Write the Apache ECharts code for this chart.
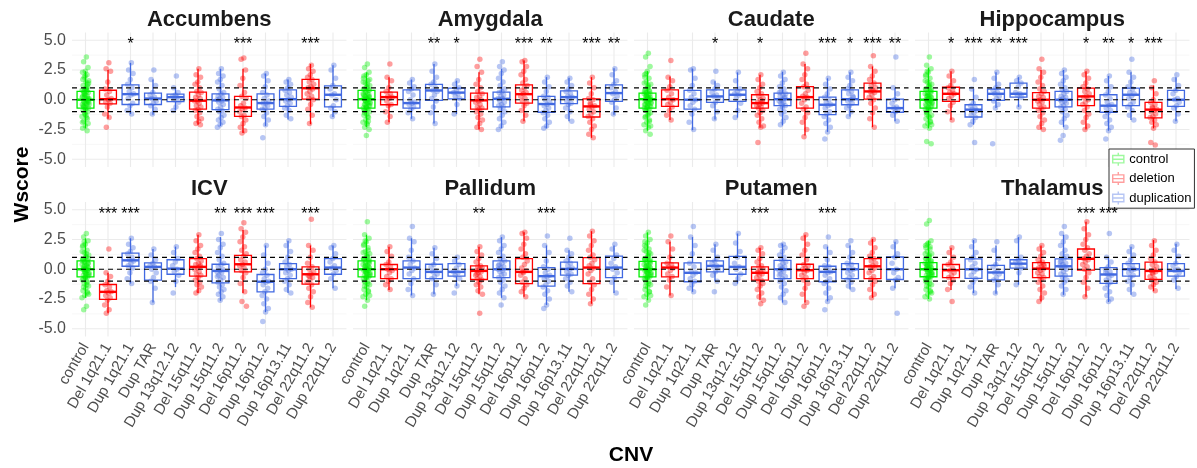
<!DOCTYPE html>
<html>
<head>
<meta charset="utf-8">
<script src="https://cdn.jsdelivr.net/npm/echarts@6/dist/echarts.min.js"></script>
<style>
  html, body { margin: 0; padding: 0; background: #ffffff; }
  #chart { width: 1197px; height: 468px; }
</style>
</head>
<body>
<div id="chart"></div>
<script>
// ---- categories and groups ----
const cnvCategories = ['control', 'Del 1q21.1', 'Dup 1q21.1', 'Dup TAR', 'Dup 13q12.12', 'Del 15q11.2',
  'Dup 15q11.2', 'Del 16p11.2', 'Dup 16p11.2', 'Dup 16p13.11', 'Del 22q11.2', 'Dup 22q11.2'];
const cnvType = ['control', 'deletion', 'duplication', 'duplication', 'duplication', 'deletion',
  'duplication', 'deletion', 'duplication', 'duplication', 'deletion', 'duplication'];
const typeNames = ['control', 'deletion', 'duplication'];
const regionNames = ['Accumbens', 'Amygdala', 'Caudate', 'Hippocampus', 'ICV', 'Pallidum', 'Putamen', 'Thalamus'];
const yTicks = [-5, -2.5, 0, 2.5, 5];
const yMinorTicks = [-3.75, -1.25, 1.25, 3.75];
const refLines = [-1, 0, 1];

// ---- per region: box stats [lower whisker, Q1, median, Q3, upper whisker], W-scores, significance ----
const accumbensBoxes = [[-2.4,-0.7,0,0.7,2.4],[-1.6,-0.35,0.05,0.8,2.5],[-1.2,-0.4,0.47,1.25,3.1],[-1.25,-0.4,0.1,0.55,1.7],
  [-0.9,-0.15,0.22,0.47,1.0],[-2.1,-0.78,-0.08,0.64,2.6],[-2.2,-0.83,-0.05,0.5,2.6],[-2.8,-1.4,-0.65,0.28,2.6],
  [-2.2,-0.78,-0.28,0.5,2.2],[-1.65,-0.56,0.05,0.83,1.7],[-2.05,0.05,0.97,1.72,3.0],[-1.45,-0.6,0.42,1.17,2.9]];
const accumbensPoints = [
  '3.6 3.2 2.7 2.4 2.3 2.1 1.9 1.6 1.5 1.2 1.1 0.9 0.8 0.7 0.6 0.6 0.4 0.3 0.3 0.2 0.1 0.0 -0.1 -0.1 -0.3 -0.4 -0.4 -0.6 -0.7 -0.7 -0.9 -1.0 -1.2 -1.4 -1.5 -1.8 -2.0 -2.2 -2.4 -2.6 ' +
  '0.5 -0.2 0.9 -0.5 1.3 -1.1 0.2 -0.3 0.7 0.0 -0.8 1.7 -1.6 0.4 -0.4 1.0 -0.6 0.1 2.0 -1.9 0.8 -0.2 1.4 -1.3',
  '3.1 2.6 2.4 1.5 0.9 0.7 0.4 0.1 0.0 -0.2 -0.3 -0.6 -1.2 -1.5 -2.3',
  '3.1 2.5 2.2 1.7 1.3 1.0 0.7 0.5 0.4 0.1 -0.3 -0.5 -0.9 -1.2',
  '2.5 1.7 1.2 0.6 0.4 0.2 0.1 -0.1 -0.3 -0.5 -0.8 -1.2',
  '2.0 1.0 0.6 0.4 0.3 0.2 0.0 -0.2 -0.6 -0.9',
  '2.6 2.1 1.9 1.5 1.3 1.0 0.7 0.6 0.4 0.2 0.1 -0.1 -0.1 -0.3 -0.5 -0.6 -0.8 -0.9 -1.1 -1.4 -1.6 -1.8 -2.0 -2.1',
  '2.6 2.2 2.0 1.7 1.5 1.2 0.9 0.6 0.5 0.3 0.2 0.1 0.0 -0.1 -0.2 -0.4 -0.6 -0.8 -0.9 -1.0 -1.3 -1.5 -1.7 -1.9 -2.1 -2.3',
  '3.5 3.4 2.5 1.8 1.2 0.6 0.3 0.1 -0.3 -0.5 -0.7 -0.8 -1.0 -1.3 -1.4 -1.7 -2.0 -2.3 -2.6 -2.8',
  '2.2 2.0 1.6 1.1 0.6 0.4 0.1 -0.1 -0.3 -0.3 -0.5 -0.7 -0.8 -1.1 -1.4 -1.7 -2.1 -3.2',
  '1.7 1.5 1.3 1.0 0.8 0.6 0.4 0.2 0.0 -0.1 -0.3 -0.5 -0.7 -0.9 -1.3 -1.6',
  '2.9 2.6 2.4 2.1 1.9 1.7 1.5 1.3 1.1 1.0 0.9 0.7 0.5 0.3 0.1 0.0 -0.4 -0.8 -1.3 -2.0',
  '2.9 2.5 1.8 1.2 0.9 0.5 0.4 0.0 -0.5 -0.7 -1.0 -1.4'];
const accumbensStars = ['', '', '*', '', '', '', '', '***', '', '', '***', ''];

const amygdalaBoxes = [[-2.3,-0.7,0.05,0.78,2.3],[-1.9,-0.42,0.22,0.64,1.9],[-1.6,-0.7,-0.28,0.83,1.7],[-2.0,-0.05,0.78,1.3,3.0],
  [-1.2,0.08,0.6,0.97,1.6],[-2.5,-0.78,-0.05,0.55,2.3],[-2.4,-0.6,0.08,0.64,2.6],[-1.8,-0.28,0.47,1.25,3.3],
  [-2.4,-1.05,-0.36,0.28,1.9],[-1.8,-0.33,0.22,0.75,1.85],[-3.2,-1.45,-0.56,0.08,1.9],[-1.25,-0.14,0.56,1.25,2.65]];
const amygdalaPoints = [
  '3.0 2.7 2.3 2.1 1.8 1.6 1.4 1.2 1.0 0.9 0.8 0.7 0.5 0.5 0.3 0.2 0.1 0.1 0.0 -0.1 -0.2 -0.3 -0.4 -0.5 -0.6 -0.7 -0.8 -0.9 -1.0 -1.2 -1.3 -1.5 -1.7 -1.9 -2.1 -2.3 -2.5 -3.0 0.4 -0.2 ' +
  '0.6 -0.5 1.1 -0.9 0.3 -0.1 1.5 -1.4 0.0 0.8 -0.7 2.0 -1.8 0.2 -0.3 1.3 -1.1 0.4 -0.6 0.9 0.1 -0.4 1.7 -2.0',
  '3.0 1.9 1.6 1.0 0.7 0.5 0.3 0.2 0.1 -0.1 -0.4 -0.5 -1.0 -1.4 -1.9',
  '1.7 1.4 1.1 0.9 0.7 0.4 0.0 -0.2 -0.3 -0.4 -0.6 -0.8 -1.1 -1.6',
  '3.0 2.4 1.9 1.5 1.3 1.0 0.8 0.7 0.4 0.1 -0.1 -0.6 -1.1 -2.0',
  '1.6 1.3 1.0 0.8 0.6 0.5 0.3 0.1 -0.4 -1.2',
  '3.4 2.8 2.3 1.7 1.3 1.0 0.7 0.5 0.3 0.2 0.0 -0.1 -0.2 -0.4 -0.6 -0.7 -0.8 -1.0 -1.2 -1.5 -1.7 -2.0 -2.3 -2.5',
  '3.2 2.8 2.5 2.2 1.8 1.5 1.2 0.9 0.7 0.6 0.4 0.3 0.1 0.1 -0.1 -0.2 -0.4 -0.5 -0.6 -0.8 -1.0 -1.3 -1.6 -1.9 -2.2 -2.5',
  '3.3 3.2 2.8 2.4 2.1 1.7 1.4 1.2 1.0 0.8 0.6 0.5 0.3 0.1 -0.1 -0.3 -0.5 -0.9 -1.3 -1.8',
  '1.9 1.5 1.1 0.7 0.3 0.2 0.0 -0.2 -0.4 -0.5 -0.7 -0.9 -1.1 -1.3 -1.6 -1.9 -2.2 -2.4',
  '1.8 1.5 1.2 0.9 0.7 0.5 0.3 0.2 0.1 -0.1 -0.3 -0.4 -0.7 -1.0 -1.4 -1.8',
  '1.9 1.4 1.0 0.5 0.1 0.0 -0.3 -0.5 -0.6 -0.8 -1.0 -1.2 -1.4 -1.6 -1.9 -2.2 -2.5 -2.9 -3.2 -0.4',
  '2.6 2.1 1.6 1.3 1.0 0.7 0.5 0.3 0.0 -0.2 -0.7 -1.2'];
const amygdalaStars = ['', '', '', '**', '*', '', '', '***', '**', '', '***', '**'];

const caudateBoxes = [[-2.6,-0.7,0.05,0.55,2.4],[-1.7,-0.56,0.05,0.83,1.95],[-2.55,-0.78,0,0.78,2.6],[-1.65,-0.22,0.28,0.83,1.55],
  [-1.5,-0.14,0.42,0.83,2.3],[-2.35,-0.7,-0.28,0.42,2.1],[-2.15,-0.5,0.05,0.55,2.35],[-3.0,-0.7,0.22,1.1,3.0],
  [-2.7,-1.25,-0.42,0.22,1.8],[-1.4,-0.42,0.05,0.83,2.3],[-2.3,0.05,0.7,1.4,2.8],[-1.8,-1.05,-0.7,0.05,1.0]];
const caudatePoints = [
  '3.9 3.6 2.8 2.4 2.1 1.8 1.5 1.3 1.1 0.9 0.7 0.6 0.5 0.4 0.3 0.2 0.1 0.0 0.0 -0.1 -0.2 -0.3 -0.4 -0.5 -0.6 -0.7 -0.8 -0.9 -1.1 -1.3 -1.5 -1.7 -1.9 -2.1 -2.3 -2.6 -2.9 0.2 -0.4 0.8 ' +
  '0.4 -0.6 1.0 -0.9 0.1 -0.2 1.4 -1.2 0.6 0.0 -0.5 1.9 -1.8 0.3 -0.3 1.2 -1.4 0.5 -0.7 0.7 -0.1 2.2 -2.2 0.2',
  '3.3 1.9 1.6 1.1 0.8 0.5 0.2 0.0 -0.2 -0.4 -0.6 -0.9 -1.3 -1.7',
  '2.6 2.5 1.8 1.2 0.8 0.5 0.2 0.0 -0.2 -0.5 -0.8 -1.2 -1.9 -2.5',
  '2.4 1.5 1.2 0.9 0.6 0.4 0.3 0.1 -0.2 -0.5 -1.0 -1.6',
  '2.3 1.6 0.9 0.7 0.5 0.4 0.1 -0.3 -0.9 -1.5',
  '2.1 1.7 1.3 1.0 0.7 0.5 0.3 0.1 0.0 -0.2 -0.3 -0.4 -0.5 -0.6 -0.7 -0.9 -1.1 -1.3 -1.6 -1.9 -2.2 -2.3 -3.6 -0.1',
  '2.3 2.0 1.7 1.4 1.1 0.9 0.7 0.5 0.4 0.3 0.1 0.0 -0.1 -0.2 -0.3 -0.5 -0.6 -0.8 -1.0 -1.2 -1.5 -1.8 -2.1 0.2 -0.4 0.6',
  '3.9 3.0 2.6 2.1 1.7 1.3 1.1 0.8 0.5 0.3 0.2 0.0 -0.3 -0.6 -0.8 -1.1 -1.5 -1.9 -2.5 -3.1',
  '1.8 1.3 0.9 0.5 0.2 0.0 -0.2 -0.4 -0.5 -0.7 -1.0 -1.2 -1.4 -1.7 -2.0 -2.3 -2.7 -3.3',
  '2.3 1.9 1.6 1.2 0.9 0.7 0.5 0.2 0.0 -0.1 -0.3 -0.5 -0.7 -1.0 -1.4 0.3',
  '3.7 2.8 2.4 2.0 1.7 1.4 1.2 1.0 0.8 0.7 0.6 0.4 0.2 0.0 -0.3 -0.7 -1.1 -1.6 -2.3 0.9',
  '3.6 1.0 0.5 0.0 -0.3 -0.6 -0.7 -0.8 -1.0 -1.3 -1.8'];
const caudateStars = ['', '', '', '*', '', '*', '', '', '***', '*', '***', '**'];

const hippocampusBoxes = [[-2.4,-0.7,0,0.7,2.7],[-1.7,-0.14,0.5,1.05,2.4],[-2.1,-1.45,-0.83,-0.42,0.9],[-0.7,-0.05,0.5,0.9,2.3],
  [-0.6,0.22,0.5,1.4,1.9],[-2.5,-0.7,0,0.6,2.5],[-2.3,-0.6,0,0.7,2.5],[-2.5,-0.5,0.28,0.97,2.4],
  [-2.6,-1.05,-0.5,0.42,2.0],[-1.7,-0.5,0.42,0.97,2.3],[-2.4,-1.52,-0.83,-0.22,1.2],[-1.8,-0.56,0,0.78,1.9]];
const hippocampusPoints = [
  '3.6 2.9 2.6 2.3 2.0 1.8 1.5 1.3 1.1 0.9 0.7 0.6 0.5 0.3 0.3 0.2 0.1 0.0 -0.1 -0.1 -0.2 -0.3 -0.5 -0.6 -0.7 -0.8 -0.9 -1.1 -1.3 -1.4 -1.6 -1.8 -2.0 -2.2 -2.4 -3.5 -3.7 0.4 -0.4 1.0 ' +
  '0.5 -0.5 1.2 -1.0 0.2 -0.2 1.6 -1.5 0.0 0.8 -0.8 2.1 -1.9 0.3 -0.3 1.4 -1.2 0.6 -0.6 0.9 -0.1 2.4 -2.1 0.1',
  '2.4 2.0 1.6 1.2 1.0 0.8 0.6 0.5 0.3 0.1 -0.2 -0.5 -1.0 -1.7',
  '1.7 0.9 0.2 -0.3 -0.5 -0.7 -0.8 -0.9 -1.1 -1.3 -1.5 -1.8 -2.1 -3.6',
  '2.3 1.8 1.3 1.0 0.8 0.6 0.5 0.3 0.1 -0.1 -0.4 -0.7 -3.7',
  '1.9 1.6 1.4 1.1 0.6 0.5 0.4 0.2 -0.6',
  '3.4 2.6 2.3 1.9 1.5 1.2 0.9 0.7 0.5 0.3 0.2 0.0 -0.1 -0.2 -0.4 -0.6 -0.7 -0.9 -1.1 -1.4 -1.7 -2.0 -2.3 -2.5',
  '2.5 2.2 1.9 1.6 1.3 1.0 0.8 0.7 0.5 0.3 0.2 0.1 0.0 -0.1 -0.2 -0.3 -0.5 -0.6 -0.8 -1.0 -1.3 -1.6 -1.9 -2.3 -3.0 -3.4',
  '2.4 2.1 1.8 1.4 1.1 0.9 0.7 0.5 0.3 0.2 0.0 -0.2 -0.4 -0.6 -0.9 -1.2 -1.5 -1.9 -2.2 -2.5',
  '2.0 1.6 1.1 0.7 0.4 0.1 -0.2 -0.4 -0.5 -0.7 -0.9 -1.1 -1.4 -1.7 -2.0 -2.3 -2.6 -3.3',
  '3.4 2.3 1.9 1.5 1.1 0.9 0.6 0.5 0.3 0.1 -0.2 -0.4 -0.6 -0.9 -1.3 -1.7',
  '1.6 1.0 0.5 0.0 -0.2 -0.4 -0.6 -0.8 -0.9 -1.0 -1.2 -1.4 -1.5 -1.7 -1.9 -2.1 -2.4 -3.6 -3.8 -0.7',
  '2.1 1.7 1.2 0.8 0.5 0.1 0.0 -0.2 -0.5 -0.7 -1.2 -1.8'];
const hippocampusStars = ['', '*', '***', '**', '***', '', '', '*', '**', '*', '***', ''];

const icvBoxes = [[-2.4,-0.64,0,0.7,2.6],[-3.7,-2.53,-1.9,-1.28,-0.3],[-1.2,0.25,0.75,1.36,2.6],[-2.8,-0.92,0.2,0.53,1.7],
  [-1.5,-0.42,0.05,0.8,1.9],[-2.0,-0.58,0.2,0.9,2.9],[-2.65,-1.14,-0.14,0.42,2.7],[-2.0,-0.22,0.42,1.17,3.3],
  [-3.6,-1.9,-1.05,-0.44,2.0],[-2.0,-0.78,0,0.47,2.4],[-3.2,-1.25,-0.42,0.2,2.0],[-1.6,-0.42,0.14,0.9,2.0]];
const icvPoints = [
  '3.0 2.7 2.4 2.1 1.9 1.6 1.4 1.2 1.0 0.8 0.7 0.6 0.4 0.3 0.2 0.1 0.0 0.0 -0.1 -0.2 -0.3 -0.4 -0.5 -0.6 -0.7 -0.9 -1.0 -1.2 -1.4 -1.6 -1.8 -2.0 -2.2 -2.4 -3.1 -3.4 0.5 -0.3 0.9 -1.1 ' +
  '0.6 -0.5 1.1 -0.8 0.2 -0.2 1.5 -1.3 0.0 0.9 -0.7 2.0 -1.9 0.3 -0.4 1.3 -1.5 0.5 -0.6 0.7 -0.1 2.3 -2.1 0.1',
  '1.7 -0.3 -0.6 -1.0 -1.3 -1.5 -1.8 -1.9 -2.0 -2.2 -2.4 -2.6 -3.0 -3.4 -3.7',
  '2.6 2.1 1.8 1.5 1.3 1.0 0.8 0.7 0.5 0.3 0.1 -0.3 -0.8 -1.2',
  '1.7 1.2 0.8 0.5 0.3 0.2 0.0 -0.3 -0.7 -1.0 -1.6 -2.8',
  '1.9 1.4 0.9 0.6 0.3 0.0 -0.2 -0.5 -1.0 -2.0',
  '2.9 2.4 2.0 1.7 1.4 1.1 0.9 0.7 0.5 0.4 0.2 0.1 0.0 -0.2 -0.4 -0.5 -0.7 -0.9 -1.1 -1.3 -1.5 -1.8 -2.0 0.3',
  '3.0 2.5 2.1 1.8 1.4 1.1 0.8 0.5 0.4 0.2 0.0 -0.1 -0.2 -0.3 -0.5 -0.7 -0.9 -1.1 -1.3 -1.5 -1.7 -1.9 -2.1 -2.3 -2.6 -0.6',
  '3.9 3.4 3.1 2.7 2.3 1.9 1.6 1.3 1.1 0.8 0.6 0.4 0.3 0.1 -0.1 -0.3 -0.7 -1.2 -1.9 -2.7 -3.1',
  '2.0 1.2 0.5 0.0 -0.3 -0.5 -0.8 -1.0 -1.1 -1.3 -1.6 -1.9 -2.2 -2.5 -2.9 -3.3 -3.6 -4.4',
  '2.4 2.0 1.5 1.0 0.6 0.4 0.2 0.0 -0.1 -0.3 -0.5 -0.8 -1.0 -1.3 -1.7 -2.0',
  '4.2 2.0 1.6 1.0 0.5 0.2 0.0 -0.2 -0.4 -0.5 -0.7 -0.9 -1.1 -1.3 -1.6 -1.9 -2.3 -2.8 -3.2 -0.6',
  '2.0 1.8 1.3 0.9 0.6 0.3 0.1 -0.1 -0.4 -0.8 -1.6'];
const icvStars = ['', '***', '***', '', '', '', '**', '***', '***', '', '***', ''];

const pallidumBoxes = [[-2.6,-0.64,0,0.7,2.9],[-1.75,-0.78,0,0.4,1.9],[-2.2,-0.78,0.14,0.7,2.6],[-2.1,-0.78,-0.22,0.42,1.8],
  [-1.4,-0.58,-0.22,0.47,0.97],[-2.1,-0.86,-0.14,0.28,1.9],[-2.4,-0.7,0,0.7,2.7],[-2.3,-1.2,-0.22,0.9,3.1],
  [-3.0,-1.42,-0.58,0.14,2.0],[-1.9,-0.5,0.03,0.6,1.6],[-2.9,-1.2,0.14,0.97,3.2],[-2.0,-0.7,0.14,1.1,2.0]];
const pallidumPoints = [
  '4.0 2.9 2.6 2.3 2.0 1.8 1.5 1.3 1.1 0.9 0.7 0.6 0.4 0.3 0.2 0.1 0.0 -0.1 -0.1 -0.2 -0.3 -0.4 -0.5 -0.6 -0.7 -0.8 -1.0 -1.1 -1.3 -1.5 -1.7 -1.9 -2.1 -2.3 -2.6 -3.1 0.5 -0.3 0.8 1.6 ' +
  '0.5 -0.4 1.2 -1.0 0.2 -0.2 1.4 -1.2 0.0 0.8 -0.7 2.1 -1.8 0.3 -0.5 1.0 -1.4 0.6 -0.6 0.9 -0.1 2.4 -2.2 0.1',
  '1.9 1.5 1.1 0.6 0.4 0.2 0.0 -0.1 -0.3 -0.6 -0.8 -1.0 -1.3 -1.7',
  '3.6 2.6 2.3 1.6 1.0 0.7 0.4 0.1 -0.1 -0.4 -0.8 -1.2 -1.7 -2.2',
  '1.8 1.3 0.9 0.4 0.2 -0.1 -0.2 -0.4 -0.6 -0.8 -1.3 -2.1',
  '1.0 0.7 0.4 0.1 -0.2 -0.3 -0.5 -0.8 -1.4 -2.0',
  '1.9 1.5 1.2 0.9 0.6 0.3 0.2 0.1 0.0 -0.1 -0.2 -0.3 -0.5 -0.6 -0.8 -0.9 -1.1 -1.3 -1.5 -1.8 -2.1 -3.7 -0.4',
  '2.7 2.4 2.0 1.7 1.4 1.1 0.9 0.7 0.5 0.4 0.2 0.1 0.0 -0.1 -0.2 -0.4 -0.5 -0.7 -0.9 -1.1 -1.4 -1.7 -2.0 -2.4 -3.0 0.3',
  '3.1 3.0 2.6 2.1 1.7 1.3 1.0 0.7 0.4 0.1 -0.1 -0.3 -0.5 -0.8 -1.1 -1.3 -1.6 -1.9 -2.3 -0.2',
  '2.8 2.0 1.4 0.7 0.2 0.0 -0.3 -0.5 -0.6 -0.8 -1.0 -1.3 -1.5 -1.8 -2.1 -2.5 -3.0 -3.3',
  '2.6 1.6 1.3 1.0 0.7 0.5 0.3 0.1 0.0 -0.2 -0.4 -0.5 -0.8 -1.1 -1.4 -1.9',
  '3.2 2.8 2.4 2.0 1.6 1.2 1.0 0.8 0.5 0.3 0.1 -0.1 -0.4 -0.8 -1.1 -1.3 -1.7 -2.1 -2.5 -2.9',
  '2.1 1.7 1.2 0.9 0.5 0.2 0.0 -0.3 -0.7 -1.1 -2.0'];
const pallidumStars = ['', '', '', '', '', '**', '', '', '***', '', '', ''];

const putamenBoxes = [[-2.6,-0.64,0,0.67,3.1],[-2.2,-0.64,0.14,0.53,2.3],[-1.9,-1.05,-0.3,0.53,2.7],[-1.0,-0.22,0.28,0.7,2.1],
  [-1.2,-0.42,0.2,1.08,3.0],[-2.6,-0.92,-0.3,0.2,1.8],[-2.8,-0.78,0,0.75,2.15],[-2.8,-0.78,-0.08,0.42,2.9],
  [-2.7,-1.05,-0.22,0.25,1.9],[-1.7,-0.78,0,0.47,2.0],[-2.4,-0.78,0.25,0.9,2.55],[-1.6,-0.86,0,1.03,2.3]];
const putamenPoints = [
  '3.1 2.8 2.5 2.2 2.0 1.7 1.5 1.3 1.1 0.9 0.7 0.6 0.4 0.3 0.2 0.1 0.0 -0.1 -0.1 -0.2 -0.3 -0.4 -0.5 -0.6 -0.7 -0.8 -1.0 -1.1 -1.3 -1.5 -1.7 -1.9 -2.1 -2.3 -2.6 -3.0 0.5 -0.3 0.8 1.4 ' +
  '0.5 -0.5 1.0 -0.9 0.2 -0.2 1.6 -1.2 0.0 0.8 -0.7 2.3 -1.9 0.3 -0.4 1.2 -1.4 0.6 -0.6 0.9 -0.1 1.9 -2.2 0.1',
  '2.8 2.3 1.7 1.0 0.5 0.4 0.2 0.1 -0.1 -0.4 -0.6 -0.9 -1.5 -2.2',
  '3.6 2.7 2.0 1.3 0.5 0.2 -0.2 -0.3 -0.5 -0.8 -1.0 -1.3 -1.6 -1.9',
  '2.1 1.6 1.0 0.7 0.5 0.3 0.2 0.0 -0.2 -0.5 -1.0 -1.9',
  '3.0 2.2 1.5 1.0 0.5 0.2 0.0 -0.4 -0.8 -1.2',
  '1.8 1.6 1.3 0.9 0.6 0.3 0.2 0.0 -0.1 -0.3 -0.4 -0.5 -0.7 -0.9 -1.0 -1.2 -1.4 -1.7 -2.0 -2.3 -2.6 -2.9 -0.2',
  '2.1 2.0 1.8 1.5 1.2 1.0 0.8 0.6 0.5 0.3 0.2 0.0 -0.1 -0.2 -0.4 -0.6 -0.8 -1.0 -1.2 -1.5 -1.8 -2.1 -2.4 -2.8 0.1 -0.5',
  '2.9 2.6 2.1 1.6 1.2 0.8 0.4 0.3 0.1 0.0 -0.1 -0.3 -0.5 -0.7 -0.9 -1.2 -1.6 -2.1 -2.8 -3.1',
  '2.7 1.9 1.4 0.8 0.3 0.2 0.0 -0.2 -0.3 -0.5 -0.8 -1.0 -1.2 -1.6 -2.0 -2.4 -2.7 -3.4',
  '2.4 2.0 1.4 1.0 0.5 0.4 0.2 0.0 -0.1 -0.3 -0.5 -0.7 -0.9 -1.1 -1.4 -1.7',
  '2.5 2.2 1.8 1.4 1.1 0.9 0.7 0.5 0.3 0.2 0.1 -0.1 -0.3 -0.6 -0.8 -1.0 -1.3 -1.7 -2.1 -2.4',
  '2.3 1.9 1.3 1.0 0.5 0.0 -0.3 -0.7 -0.9 -1.6 -3.7'];
const putamenStars = ['', '', '', '', '', '***', '', '', '***', '', '', ''];

const thalamusBoxes = [[-2.5,-0.63,0,0.55,2.4],[-1.75,-0.7,-0.08,0.4,1.8],[-2.0,-0.77,0,0.88,2.45],[-2.05,-0.9,-0.27,0.33,2.0],
  [-1.3,0.1,0.47,0.8,2.7],[-2.7,-0.7,0.05,0.55,2.0],[-2.15,-0.58,0.25,0.88,2.9],[-2.3,-0.08,0.88,1.7,4.0],
  [-2.75,-1.18,-0.44,0.14,1.0],[-2.15,-0.58,0,0.47,1.9],[-1.85,-0.85,-0.14,0.6,2.45],[-1.65,-0.58,-0.14,0.47,2.15]];
const thalamusPoints = [
  '4.1 3.8 2.4 2.2 2.0 1.7 1.5 1.3 1.1 0.9 0.7 0.6 0.5 0.3 0.2 0.1 0.0 0.0 -0.1 -0.2 -0.3 -0.4 -0.5 -0.6 -0.7 -0.8 -0.9 -1.1 -1.3 -1.5 -1.7 -1.9 -2.1 -2.3 -2.5 0.4 -0.3 0.8 -1.0 1.9 ' +
  '0.4 -0.5 1.0 -0.9 0.2 -0.2 1.3 -1.2 0.0 0.7 -0.7 1.8 -1.8 0.3 -0.4 1.2 -1.4 0.5 -0.6 0.9 -0.1 2.1 -2.0 0.1',
  '1.8 1.4 1.0 0.6 0.4 0.1 -0.1 -0.3 -0.5 -0.7 -0.9 -1.2 -1.7 -2.7',
  '2.4 1.9 1.4 1.0 0.8 0.5 0.2 0.0 -0.2 -0.5 -0.8 -1.1 -1.5 -2.0',
  '2.3 1.6 0.9 0.4 0.2 -0.1 -0.3 -0.4 -0.7 -0.9 -1.3 -2.0',
  '2.7 2.4 1.0 0.8 0.6 0.5 0.3 0.1 -0.3 -1.3',
  '2.0 1.7 1.4 1.1 0.8 0.6 0.5 0.3 0.2 0.1 0.0 -0.1 -0.3 -0.4 -0.6 -0.7 -0.9 -1.1 -1.4 -1.7 -2.0 -2.4 -2.7 0.4',
  '3.6 3.0 2.7 2.3 2.0 1.6 1.3 1.1 0.9 0.7 0.5 0.4 0.3 0.2 0.1 0.0 -0.2 -0.4 -0.5 -0.7 -0.9 -1.1 -1.4 -1.7 -2.1 0.6',
  '4.0 3.4 2.9 2.5 2.1 1.8 1.6 1.3 1.1 0.9 0.8 0.6 0.4 0.2 0.0 -0.3 -0.7 -1.1 -1.6 -2.3',
  '3.0 1.0 0.6 0.2 0.0 -0.2 -0.4 -0.5 -0.7 -0.9 -1.1 -1.3 -1.6 -1.9 -2.2 -2.5 -2.7 -0.3',
  '1.9 1.5 1.2 0.8 0.5 0.3 0.1 0.0 -0.1 -0.3 -0.5 -0.7 -1.0 -1.3 -1.7 -2.1',
  '2.4 2.0 1.6 1.2 0.9 0.6 0.4 0.2 0.0 -0.1 -0.2 -0.4 -0.6 -0.8 -0.9 -1.1 -1.3 -1.5 -1.8 -0.3',
  '2.1 1.6 1.1 0.5 0.3 0.0 -0.1 -0.3 -0.6 -0.9 -1.6'];
const thalamusStars = ['', '', '', '', '', '', '', '***', '***', '', '', ''];

const regionBoxes = [accumbensBoxes, amygdalaBoxes, caudateBoxes, hippocampusBoxes, icvBoxes, pallidumBoxes, putamenBoxes, thalamusBoxes];
const regionPoints = [accumbensPoints, amygdalaPoints, caudatePoints, hippocampusPoints, icvPoints, pallidumPoints, putamenPoints, thalamusPoints];
const regionStars = [accumbensStars, amygdalaStars, caudateStars, hippocampusStars, icvStars, pallidumStars, putamenStars, thalamusStars];

// ---- look ----
const FONT = '"Liberation Sans", Arial, Helvetica, sans-serif';
const typeColors = { control: '#00EE00', deletion: '#FF0000', duplication: '#4169E1' };
const PANEL_LEFT = [72, 353, 634, 915];
const PANEL_W = 274.5;
const ROW_TOP = [32.5, 202];
const PANEL_H = 134.5;
const X_MIN = -0.6, X_MAX = 11.6;
const Y_MIN = -5.65, Y_MAX = 5.65;
const BOX_WIDTH = 0.75;
const JITTER = 0.16;
const STAR_Y = 4.6;

// sideways spread of the points: a fixed golden-ratio sequence, so the layout is repeatable
const jitter = j => ((((j + 1) * 0.6180339887) % 1) - 0.5) * 2 * JITTER;

const chart = echarts.init(document.getElementById('chart'), null, { renderer: 'canvas' });

const grids = [], xAxes = [], yAxes = [], titles = [], series = [];

const renderGrid = (params, api) => {
  const kind = api.value(2);
  if (kind === 3) {
    const a = api.coord([api.value(0), Y_MIN]), b = api.coord([api.value(0), Y_MAX]);
    return { type: 'line', shape: { x1: a[0], y1: a[1], x2: b[0], y2: b[1] }, style: { stroke: '#EBEBEB', lineWidth: 1.1 } };
  }
  const a = api.coord([X_MIN, api.value(1)]), b = api.coord([X_MAX, api.value(1)]);
  return { type: 'line', shape: { x1: a[0], y1: a[1], x2: b[0], y2: b[1] },
    style: { stroke: kind === 1 ? '#EBEBEB' : '#F2F2F2', lineWidth: kind === 1 ? 1.1 : 0.6 } };
};

const renderRef = (params, api) => {
  const a = api.coord([X_MIN, api.value(1)]), b = api.coord([X_MAX, api.value(1)]);
  return { type: 'line', shape: { x1: a[0], y1: a[1], x2: b[0], y2: b[1] },
    style: { stroke: '#000', lineWidth: 1.2, lineDash: [5, 4] } };
};

const makeBoxRenderer = color => (params, api) => {
  const x = api.value(0);
  const lo = api.coord([x, api.value(1)]);
  const q1 = api.coord([x, api.value(2)]);
  const med = api.coord([x, api.value(3)]);
  const q3 = api.coord([x, api.value(4)]);
  const hi = api.coord([x, api.value(5)]);
  const half = api.size([BOX_WIDTH, 0])[0] / 2;
  const thin = { stroke: color, lineWidth: 1.3, fill: null };
  return { type: 'group', children: [
    { type: 'line', shape: { x1: lo[0], y1: lo[1], x2: q1[0], y2: q1[1] }, style: thin },
    { type: 'line', shape: { x1: q3[0], y1: q3[1], x2: hi[0], y2: hi[1] }, style: thin },
    { type: 'rect', shape: { x: q3[0] - half, y: q3[1], width: half * 2, height: q1[1] - q3[1] },
      style: { stroke: color, lineWidth: 1.3, fill: 'rgba(0,0,0,0)' } },
    { type: 'line', shape: { x1: med[0] - half, y1: med[1], x2: med[0] + half, y2: med[1] },
      style: { stroke: color, lineWidth: 2.4 } }
  ] };
};

regionNames.forEach((name, k) => {
  const row = Math.floor(k / 4), col = k % 4;
  const left = PANEL_LEFT[col], top = ROW_TOP[row];
  grids.push({ left, top, width: PANEL_W, height: PANEL_H });

  xAxes.push({
    gridIndex: k, type: 'value', min: X_MIN, max: X_MAX,
    axisLine: { show: false }, axisTick: { show: false }, splitLine: { show: false },
    axisLabel: row === 1 ? {
      show: true, customValues: cnvCategories.map((c, i) => i),
      formatter: v => cnvCategories[Math.round(v)] || '',
      rotate: 60, margin: 8, fontSize: 15, color: '#4D4D4D', fontFamily: FONT
    } : { show: false }
  });
  yAxes.push({
    gridIndex: k, type: 'value', min: Y_MIN, max: Y_MAX,
    axisLine: { show: false }, axisTick: { show: false }, splitLine: { show: false },
    axisLabel: col === 0 ? {
      show: true, customValues: yTicks, formatter: v => v.toFixed(1),
      margin: 6, fontSize: 16, color: '#4D4D4D', fontFamily: FONT
    } : { show: false }
  });

  titles.push({
    text: name, left: left + PANEL_W / 2, top: top - 24, textAlign: 'center', padding: 0,
    textStyle: { fontSize: 22, fontWeight: 'bold', color: '#1A1A1A', fontFamily: FONT }
  });

  // background grid
  const gridData = [
    ...yTicks.map(v => [0, v, 1]),
    ...yMinorTicks.map(v => [0, v, 2]),
    ...cnvCategories.map((c, i) => [i, 0, 3])
  ];
  series.push({ type: 'custom', xAxisIndex: k, yAxisIndex: k, z: 1, silent: true,
    renderItem: renderGrid, data: gridData, encode: { x: 0, y: 1 } });

  // jittered subjects and box plots, one series per CNV type
  typeNames.forEach(type => {
    const pts = [];
    const boxes = [];
    cnvCategories.forEach((cat, i) => {
      if (cnvType[i] !== type) return;
      regionPoints[k][i].trim().split(/\s+/).map(Number).forEach((v, j) => pts.push([i + jitter(j), v]));
      boxes.push([i, ...regionBoxes[k][i]]);
    });
    series.push({
      type: 'scatter', name: type, xAxisIndex: k, yAxisIndex: k, z: 2,
      symbolSize: 5.5, itemStyle: { color: typeColors[type], opacity: 0.38 },
      data: pts, emphasis: { disabled: true }
    });
    series.push({
      type: 'custom', name: type, xAxisIndex: k, yAxisIndex: k, z: 3,
      itemStyle: { color: typeColors[type] },
      renderItem: makeBoxRenderer(typeColors[type]), data: boxes, encode: { x: 0, y: [1, 2, 3, 4, 5] }
    });
  });

  // reference lines at -1, 0, 1
  series.push({ type: 'custom', xAxisIndex: k, yAxisIndex: k, z: 4, silent: true,
    renderItem: renderRef, data: refLines.map(v => [0, v]), encode: { x: 0, y: 1 } });

  // significance marks
  const starData = regionStars[k].map((s, i) => [i, STAR_Y]).filter((d, i) => regionStars[k][i]);
  series.push({ type: 'custom', xAxisIndex: k, yAxisIndex: k, z: 5, silent: true,
    renderItem: (params, api) => {
      const p = api.coord([api.value(0), api.value(1)]);
      return { type: 'text', x: p[0], y: p[1],
        style: { text: regionStars[k][api.value(0)], fontSize: 16, fontFamily: FONT, fill: '#000',
          align: 'center', verticalAlign: 'middle' } };
    },
    data: starData, encode: { x: 0, y: 1 } });
});

const BOX_ICON = 'path://M3,3 H15 V11 H3 Z M3,7 H15 M9,0 V3 M9,11 V14';

chart.setOption({
  animation: false,
  backgroundColor: '#ffffff',
  title: titles,
  grid: grids,
  xAxis: xAxes,
  yAxis: yAxes,
  legend: {
    orient: 'vertical', left: 1109, top: 149,
    backgroundColor: '#ffffff', borderColor: '#333333', borderWidth: 1,
    padding: [3, 3, 3, 3], itemGap: 5, itemWidth: 16, itemHeight: 13,
    textStyle: { fontSize: 13, color: '#000', fontFamily: FONT, padding: [0, 0, 0, -2] },
    data: typeNames.map(t => ({ name: t, icon: BOX_ICON,
      itemStyle: { color: 'rgba(0,0,0,0)', borderColor: typeColors[t], borderWidth: 1.4 } }))
  },
  graphic: [
    { type: 'text', x: 22, y: 184.5, rotation: Math.PI / 2,
      style: { text: 'Wscore', fontSize: 21, fontWeight: 'bold', fontFamily: FONT, fill: '#000',
        align: 'center', verticalAlign: 'middle' } },
    { type: 'text', x: 631, y: 455,
      style: { text: 'CNV', fontSize: 21, fontWeight: 'bold', fontFamily: FONT, fill: '#000',
        align: 'center', verticalAlign: 'middle' } }
  ],
  series
});
</script>
</body>
</html>
